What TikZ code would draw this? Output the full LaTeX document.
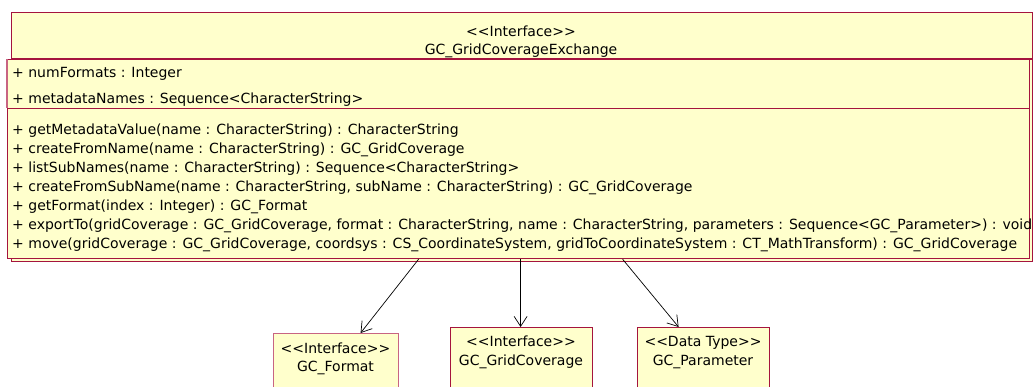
\documentclass[tikz,border=0pt]{standalone}
\usepackage{fontspec}
\setmainfont{DejaVu Sans}
\usetikzlibrary{arrows.meta}
\definecolor{umlfill}{RGB}{255,255,204}
\definecolor{umlline}{RGB}{165,20,62}
\definecolor{umllight}{RGB}{200,100,130}
\tikzset{
  umlbox/.style={draw=umlline, fill=umlfill, line width=1.2pt, inner sep=0pt, anchor=north west},
  txt/.style={inner sep=0pt, anchor=base west, font=\fontsize{14}{16}\selectfont},
  ctxt/.style={inner sep=0pt, anchor=base, font=\fontsize{14}{16}\selectfont},
  dep/.style={draw=black, line width=0.7pt, -{Straight Barb[length=10pt,width=13pt,line width=0.7pt]}}
}
\begin{document}
\begin{tikzpicture}[x=1pt,y=-1pt]
\useasboundingbox (0,0) rectangle (1034,387);
% main class
\node[umlbox, minimum width=1021pt, minimum height=249pt] (cls) at (11,12) {};
\draw[umlline, line width=1.2pt] (11,59) -- (1032,59);
\node[umlbox, minimum width=1022pt, minimum height=49pt] (attrs) at (7,59) {};
\node[umlbox, minimum width=1022pt, minimum height=150pt] (ops) at (7,108) {};
\draw[umllight, line width=1.2pt] (7,59) -- (7,108);
% header
\node[ctxt] (stereo) at (521,37) {<{}<Interface>{}>};
\node[ctxt] (cname) at (521,55) {GC\_GridCoverageExchange};
% attributes
\node[txt] (a1) at (12,78) {+ numFormats : Integer};
\node[txt] (a2) at (12,104) {+ metadataNames : Sequence<CharacterString>};
% operations
\node[txt] (o1) at (12,135) {+ getMetadataValue(name : CharacterString) : CharacterString};
\node[txt] (o2) at (12,154) {+ createFromName(name : CharacterString) : GC\_GridCoverage};
\node[txt] (o3) at (12,173) {+ listSubNames(name : CharacterString) : Sequence<CharacterString>};
\node[txt] (o4) at (12,192) {+ createFromSubName(name : CharacterString, subName : CharacterString) : GC\_GridCoverage};
\node[txt] (o5) at (12,211) {+ getFormat(index : Integer) : GC\_Format};
\node[txt] (o6) at (12,230) {+ exportTo(gridCoverage : GC\_GridCoverage, format : CharacterString, name : CharacterString, parameters : Sequence<GC\_Parameter>) : void};
\node[txt] (o7) at (12,249) {+ move(gridCoverage : GC\_GridCoverage, coordsys : CS\_CoordinateSystem, gridToCoordinateSystem : CT\_MathTransform) : GC\_GridCoverage};
% lower classes
\node[umlbox, draw=umllight, minimum width=125pt, minimum height=70pt] (fmt) at (273,333) {};
\node[ctxt] (fmts) at (335.5,354) {<{}<Interface>{}>};
\node[ctxt] (fmtn) at (335.5,372) {GC\_Format};
\node[umlbox, minimum width=142pt, minimum height=70pt] (gc) at (450,327) {};
\node[ctxt] (gcs) at (521,347) {<{}<Interface>{}>};
\node[ctxt] (gcn) at (521,366) {GC\_GridCoverage};
\node[umlbox, minimum width=132pt, minimum height=70pt] (par) at (637,327) {};
\node[ctxt] (pars) at (703,347) {<{}<Data Type>{}>};
\node[ctxt] (parn) at (703,366) {GC\_Parameter};
% connectors
\draw[dep] ([xshift=-100pt]ops.south) -- ([xshift=24.5pt]fmt.north);
\draw[dep] ([xshift=2pt]ops.south) -- ([xshift=-1pt]gc.north);
\draw[dep] ([xshift=104pt]ops.south) -- ([xshift=-25pt]par.north);
\end{tikzpicture}
\end{document}
